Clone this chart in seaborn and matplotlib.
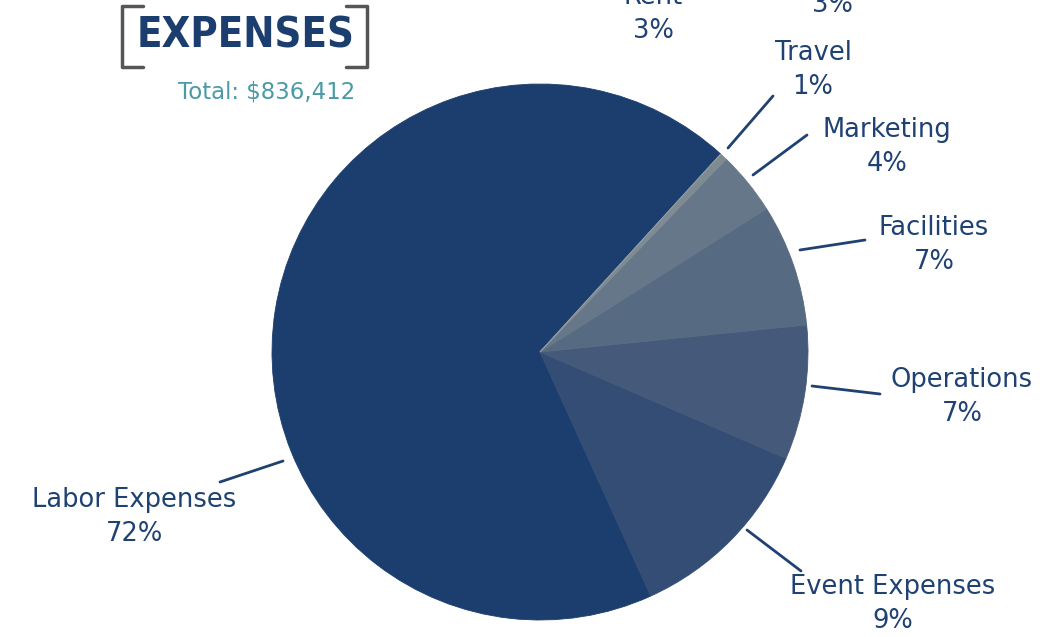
import matplotlib
matplotlib.use("Agg")
import matplotlib.pyplot as plt
import seaborn as sns
from matplotlib.lines import Line2D

# Data (slice sizes, labels as printed)
categories = ["Labor Expenses", "Event Expenses", "Operations", "Facilities",
              "Marketing", "Travel", "Rent", "Other"]
amounts = [573400, 98050, 67840, 61570, 31830, 3720, 0, 0]
pct_labels = ["72%", "9%", "7%", "7%", "4%", "1%", "3%", "3%"]
total_label = "Total: $836,412"

colors = ["#1c3e6e", "#344d75", "#455a7a", "#566a82",
          "#66778a", "#7f8b92", "#8a949a", "#959ea3"]

sns.set_theme(style="white")
plt.rcParams["font.family"] = ["DejaVu Sans"]

W, H = 1049, 637
fig = plt.figure(figsize=(W / 100, H / 100), dpi=100)

cx, cy, r = 540, 352, 268
ax = fig.add_axes([(cx - r) / W, (H - cy - r) / H, 2 * r / W, 2 * r / H])
wedges, _ = ax.pie(amounts, colors=colors, startangle=47.6, counterclock=True,
                   radius=1, wedgeprops=dict(linewidth=0.6))
for w, c in zip(wedges, colors):
    w.set_edgecolor(c)
ax.set_xlim(-1, 1)
ax.set_ylim(-1, 1)
ax.set_aspect("equal")
ax.axis("off")

def fx(x):
    return x / W

def fy(y):
    return 1 - y / H

text_color = "#1f4273"
# label text centres and leader lines (pixel coords)
label_pos = {
    "Labor Expenses": (134, 517, [(283, 461), (220, 482)]),
    "Event Expenses": (893, 604, [(747, 530), (801, 571)]),
    "Operations": (962, 397, [(812, 386), (880, 394)]),
    "Facilities": (934, 245, [(800, 250), (865, 240)]),
    "Marketing": (887, 147, [(753, 175), (807, 135)]),
    "Travel": (813, 70, [(728, 148), (773, 96)]),
    "Rent": (653, 14, None),
    "Other": (832, -12, None),
}

for cat, pct in zip(categories, pct_labels):
    tx, ty, line = label_pos[cat]
    fig.text(fx(tx), fy(ty), f"{cat}\n{pct}", ha="center", va="center",
             fontsize=18.5, color=text_color, linespacing=1.42)
    if line is not None:
        (x0, y0), (x1, y1) = line
        fig.add_artist(Line2D([fx(x0), fx(x1)], [fy(y0), fy(y1)],
                              transform=fig.transFigure, color=text_color, lw=2))

# title with brackets
fig.text(fx(246), fy(36), "EXPENSES", ha="center", va="center",
         fontsize=30, fontweight="bold", fontstretch="condensed",
         color="#1c3e6e")
bc = "#555555"
for xs, ys in [([143, 122, 122, 143], [6, 6, 67, 67]),
               ([346, 367, 367, 346], [6, 6, 67, 67])]:
    fig.add_artist(Line2D([fx(x) for x in xs], [fy(y) for y in ys],
                          transform=fig.transFigure, color=bc, lw=2.5))
fig.text(fx(267), fy(92), total_label, ha="center", va="center",
         fontsize=16.5, color="#4a9aa8")

fig.savefig("out.png", dpi=100)
